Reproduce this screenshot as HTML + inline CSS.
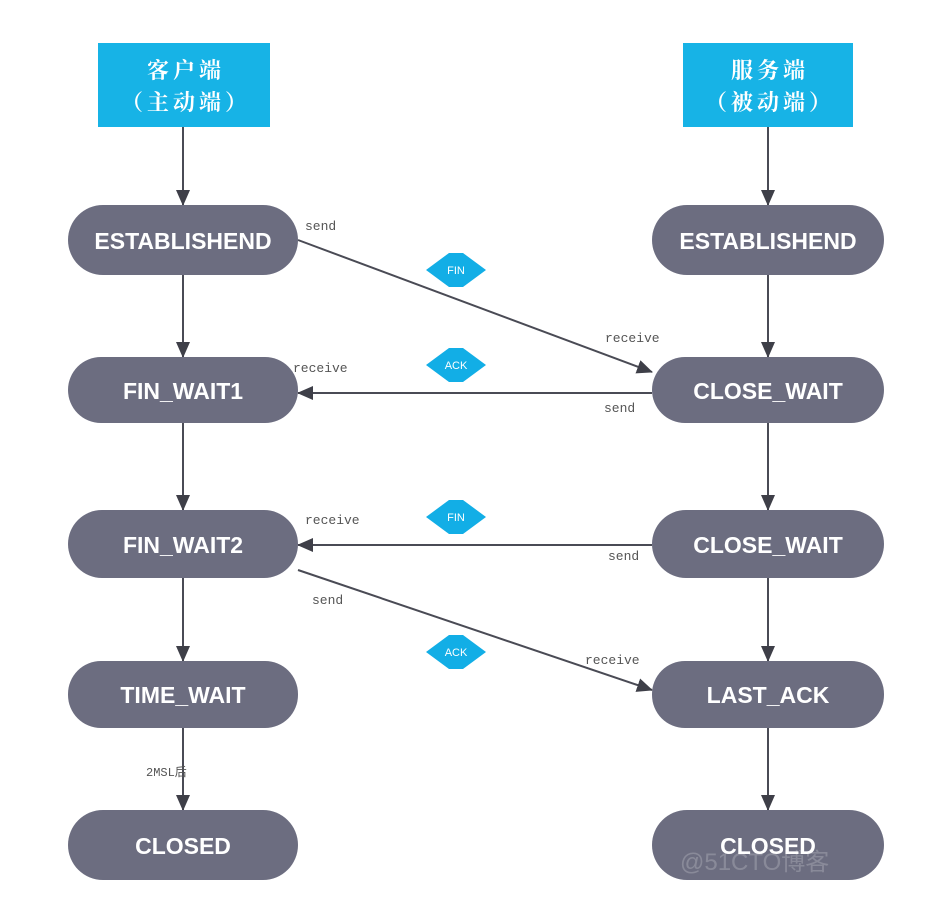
<!DOCTYPE html>
<html><head><meta charset="utf-8"><style>
body{margin:0;background:#fff;}
svg{display:block;}
.n{fill:#6c6d80;}
.t{font-family:"Liberation Sans",sans-serif;font-weight:bold;font-size:23px;fill:#fff;text-anchor:middle;}
.l{font-family:"Liberation Mono","Noto Sans CJK SC",monospace;font-size:13px;fill:#555;}
.c{font-family:"Liberation Serif","Noto Serif CJK SC",serif;font-weight:bold;font-size:22px;fill:#fff;text-anchor:middle;letter-spacing:4px;}
.d{font-family:"Liberation Sans",sans-serif;font-size:11px;fill:#fff;text-anchor:middle;}
line{stroke:#4a4b55;stroke-width:2;}
</style></head><body>
<svg width="930" height="907" viewBox="0 0 930 907">
<defs>
<marker id="b" markerWidth="16" markerHeight="14" refX="15" refY="7" orient="auto" markerUnits="userSpaceOnUse" viewBox="0 0 16 14"><path d="M0,0 L16,7 L0,14 z" fill="#3e3f48"/></marker></defs>
<rect x="98" y="43" width="172" height="84" fill="#17b3e6"/>
<text class="c" x="186" y="78">客户端</text><text class="c" x="186" y="110">（主动端）</text>
<rect x="683" y="43" width="170" height="84" fill="#17b3e6"/>
<text class="c" x="770" y="78">服务端</text><text class="c" x="770" y="110">（被动端）</text>
<g>
<line x1="183" y1="127" x2="183" y2="205" marker-end="url(#b)"/>
<line x1="183" y1="275" x2="183" y2="357" marker-end="url(#b)"/>
<line x1="183" y1="423" x2="183" y2="510" marker-end="url(#b)"/>
<line x1="183" y1="578" x2="183" y2="661" marker-end="url(#b)"/>
<line x1="183" y1="728" x2="183" y2="810" marker-end="url(#b)"/>
<line x1="768" y1="127" x2="768" y2="205" marker-end="url(#b)"/>
<line x1="768" y1="275" x2="768" y2="357" marker-end="url(#b)"/>
<line x1="768" y1="423" x2="768" y2="510" marker-end="url(#b)"/>
<line x1="768" y1="578" x2="768" y2="661" marker-end="url(#b)"/>
<line x1="768" y1="728" x2="768" y2="810" marker-end="url(#b)"/>
<line x1="298" y1="240" x2="652" y2="372" marker-end="url(#b)"/>
<line x1="652" y1="393" x2="298" y2="393" marker-end="url(#b)"/>
<line x1="652" y1="545" x2="298" y2="545" marker-end="url(#b)"/>
<line x1="298" y1="570" x2="652" y2="690" marker-end="url(#b)"/>
</g>
<g>
<rect class="n" x="68" y="205" width="230" height="70" rx="35"/><text class="t" x="183" y="249">ESTABLISHEND</text>
<rect class="n" x="68" y="357" width="230" height="66" rx="33"/><text class="t" x="183" y="399">FIN_WAIT1</text>
<rect class="n" x="68" y="510" width="230" height="68" rx="34"/><text class="t" x="183" y="553">FIN_WAIT2</text>
<rect class="n" x="68" y="661" width="230" height="67" rx="33"/><text class="t" x="183" y="703">TIME_WAIT</text>
<rect class="n" x="68" y="810" width="230" height="70" rx="35"/><text class="t" x="183" y="854">CLOSED</text>
<rect class="n" x="652" y="205" width="232" height="70" rx="35"/><text class="t" x="768" y="249">ESTABLISHEND</text>
<rect class="n" x="652" y="357" width="232" height="66" rx="33"/><text class="t" x="768" y="399">CLOSE_WAIT</text>
<rect class="n" x="652" y="510" width="232" height="68" rx="34"/><text class="t" x="768" y="553">CLOSE_WAIT</text>
<rect class="n" x="652" y="661" width="232" height="67" rx="33"/><text class="t" x="768" y="703">LAST_ACK</text>
<rect class="n" x="652" y="810" width="232" height="70" rx="35"/><text class="t" x="768" y="854">CLOSED</text>
</g>
<g fill="#12aee6">
<path d="M426,270 L449,253 L463,253 L486,270 L463,287 L449,287 z"/><text class="d" x="456" y="274">FIN</text>
<path d="M426,365 L449,348 L463,348 L486,365 L463,382 L449,382 z"/><text class="d" x="456" y="369">ACK</text>
<path d="M426,517 L449,500 L463,500 L486,517 L463,534 L449,534 z"/><text class="d" x="456" y="521">FIN</text>
<path d="M426,652 L449,635 L463,635 L486,652 L463,669 L449,669 z"/><text class="d" x="456" y="656">ACK</text>
</g>
<text class="l" x="305" y="230">send</text>
<text class="l" x="605" y="342">receive</text>
<text class="l" x="293" y="372">receive</text>
<text class="l" x="604" y="412">send</text>
<text class="l" x="305" y="524">receive</text>
<text class="l" x="608" y="560">send</text>
<text class="l" x="312" y="604">send</text>
<text class="l" x="585" y="664">receive</text>
<text class="l" x="146" y="776" style="font-size:12px">2MSL后</text>
<text x="680" y="870" style="font-family:'Liberation Sans','Noto Sans CJK SC',sans-serif;font-size:24px;fill:#fff;opacity:0.2">@51CTO博客</text>
</svg>
</body></html>
